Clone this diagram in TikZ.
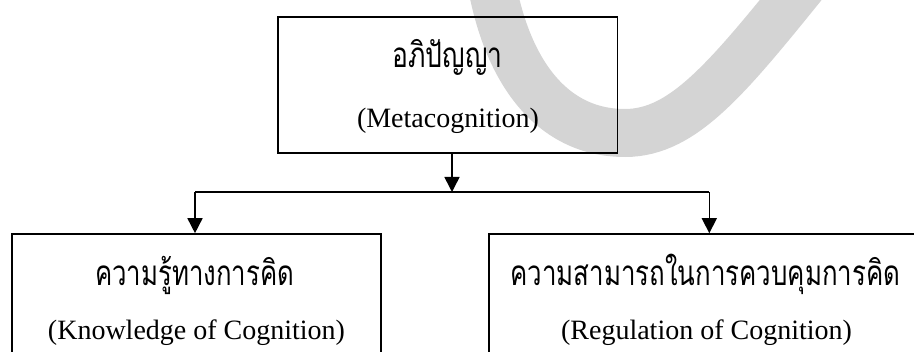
\documentclass[tikz,border=0pt]{standalone}
\usepackage{fontspec}
\setmainfont{Liberation Serif}
\newfontfamily\thai[Script=Thai]{Loma}
\usetikzlibrary{arrows.meta}
\definecolor{wm}{RGB}{212,212,212}
\newcommand\thtext[2]{\resizebox{#1}{\height}{\thai\fontsize{35}{40}\selectfont #2}}
\begin{document}
\begin{tikzpicture}[x=1pt,y=-1pt,
  box/.style={draw=black, line width=1.6pt, inner sep=0pt},
  en/.style={anchor=base, inner sep=0pt, font=\fontsize{28}{34}\selectfont},
  th/.style={anchor=base, inner sep=0pt},
  arr/.style={line width=1.6pt, -{Triangle[width=15pt,length=15pt]}},
  conn/.style={line width=1.6pt}]
\useasboundingbox (0,0) rectangle (914,352);
% watermark
\draw[wm, line width=48pt] (488,-40) .. controls (500,60) and (545,133) .. (625,133)
   .. controls (685,133) and (730,75) .. (815,-30);
% boxes
\node[box, minimum width=339.5pt, minimum height=136.5pt] (top) at (447.75,85) {};
\node[box, minimum width=369pt, minimum height=166pt] (left) at (196.5,317) {};
\node[box, minimum width=441pt, minimum height=166pt] (right) at (709.5,317) {};
% texts
\node[th] (t1) at (447.5,68) {\thtext{110pt}{อภิปัญญา}};
\node[en] (e1) at (448,128) {(Metacognition)};
\node[th] (t2) at (194.5,286) {\thtext{199pt}{ความรู้ทางการคิด}};
\node[en] (e2) at (196.5,340) {(Knowledge of Cognition)};
\node[th] (t3) at (705.3,286) {\thtext{390pt}{ความสามารถในการควบคุมการคิด}};
\node[en] (e3) at (706.5,340) {(Regulation of Cognition)};
% connectors
\coordinate (j) at (452,192);
\coordinate (jl) at (195,192);
\coordinate (jr) at (709.3,192);
\draw[arr] (top.south -| j) -- (j);
\draw[conn] (jl) -- (jr);
\draw[arr] (jl) -- (jl |- left.north);
\draw[arr] (jr) -- (jr |- right.north);
\end{tikzpicture}
\end{document}
